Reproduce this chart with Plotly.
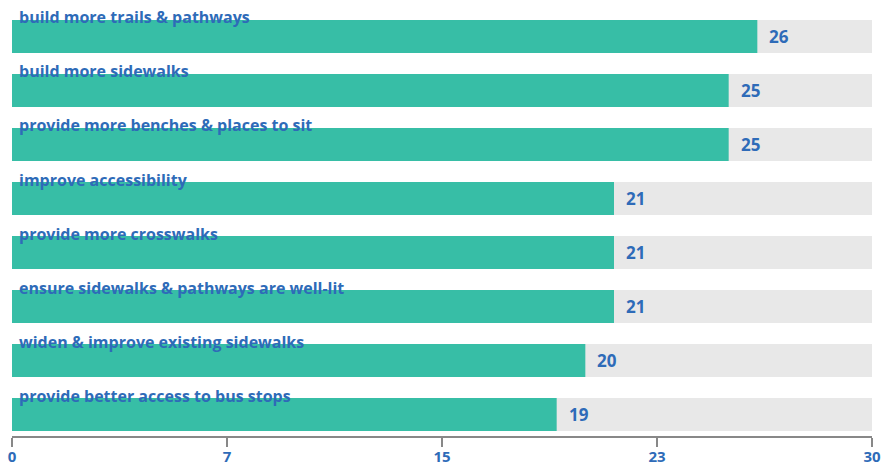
import plotly.graph_objects as go

categories = [
    "build more trails & pathways",
    "build more sidewalks",
    "provide more benches & places to sit",
    "improve accessibility",
    "provide more crosswalks",
    "ensure sidewalks & pathways are well-lit",
    "widen & improve existing sidewalks",
    "provide better access to bus stops",
]
values = [26, 25, 25, 21, 21, 21, 20, 19]
max_value = 30
tick_vals = [0, 7.5, 15, 22.5, 30]
tick_text = ["0", "7", "15", "23", "30"]

BLUE = "#2e6bb8"
TEAL = "#37bea6"
GRAY = "#e8e8e8"
FONT = "Open Sans"

fig = go.Figure()
fig.add_trace(go.Bar(
    y=categories, x=[max_value] * len(categories), orientation="h",
    marker=dict(color=GRAY, line=dict(width=0)), width=0.61,
    hoverinfo="skip", showlegend=False,
))
fig.add_trace(go.Bar(
    y=categories, x=values, orientation="h",
    marker=dict(color=TEAL, line=dict(width=0)), width=0.61,
    showlegend=False,
))

annotations = []
for c, v in zip(categories, values):
    annotations.append(dict(
        x=0, y=c, xref="x", yref="y", text=c, showarrow=False,
        xanchor="left", yanchor="bottom", xshift=5, yshift=6,
        font=dict(family=FONT, size=16, color=BLUE, weight="bold"),
    ))
    annotations.append(dict(
        x=v, y=c, xref="x", yref="y", text=str(v), showarrow=False,
        xanchor="left", yanchor="middle", xshift=10, yshift=0,
        font=dict(family=FONT, size=17, color=BLUE, weight="bold"),
    ))

n = len(categories)
fig.update_layout(
    width=881, height=467,
    margin=dict(l=12, r=9, t=9, b=31, autoexpand=False),
    barmode="overlay",
    plot_bgcolor="white", paper_bgcolor="white",
    annotations=annotations,
    xaxis=dict(
        range=[0, max_value], tickvals=tick_vals, ticktext=tick_text,
        showgrid=False, zeroline=False, showline=True, linecolor="#888888",
        linewidth=1.5, ticks="outside", ticklen=9, tickwidth=1.5,
        tickcolor="#888888", automargin=False, ticklabeloverflow="allow",
        ticklabelstandoff=-3,
        tickfont=dict(family=FONT, size=15, color=BLUE, weight="bold"),
    ),
    yaxis=dict(
        categoryorder="array", categoryarray=categories,
        range=[n - 1 + 0.398, -0.509], showticklabels=False,
        showgrid=False, zeroline=False, showline=False, automargin=False,
    ),
)

fig.write_html("out.html")
